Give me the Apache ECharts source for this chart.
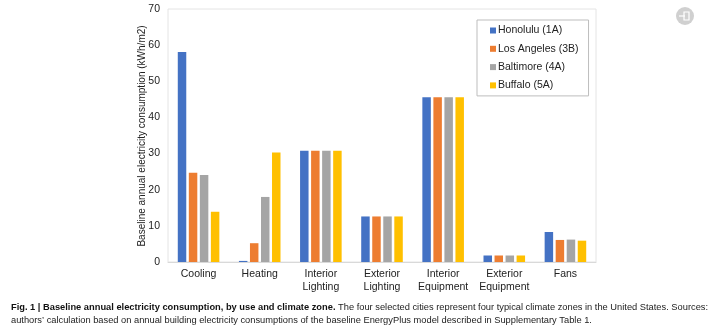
<!DOCTYPE html>
<html><head><meta charset="utf-8">
<script src="https://cdn.jsdelivr.net/npm/echarts@6/dist/echarts.min.js"></script>
<style>html,body{margin:0;padding:0;background:#fff}#c{width:714px;height:331px}</style>
</head><body><div id="c"></div>
<script>
const categories = ['Cooling','Heating','Interior\nLighting','Exterior\nLighting','Interior\nEquipment','Exterior\nEquipment','Fans'];
const honolulu = [58.1, 0.3, 30.8, 12.6, 45.6, 1.8, 8.3];
const losAngeles = [24.7, 5.2, 30.8, 12.6, 45.6, 1.8, 6.1];
const baltimore = [24.1, 18.0, 30.8, 12.6, 45.6, 1.8, 6.2];
const buffalo = [13.9, 30.3, 30.8, 12.6, 45.6, 1.8, 5.9];
const seriesNames = ['Honolulu (1A)','Los Angeles (3B)','Baltimore (4A)','Buffalo (5A)'];
const colors = ['#4472C4','#ED7D31','#A5A5A5','#FFC000'];
const values = [honolulu, losAngeles, baltimore, buffalo];
const yTitle = 'Baseline annual electricity consumption (kWh/m2)';

const chart = echarts.init(document.getElementById('c'), null, {renderer:'canvas'});
const font = 'Liberation Sans, Arial, sans-serif';
const capFont = 'Liberation Sans Narrow, Arial Narrow, sans-serif';
chart.setOption({
  animation:false,
  textStyle:{fontFamily:font},
  grid:{left:168, top:9, width:428, height:253, show:true, borderColor:'#e4e4e4', borderWidth:1, containLabel:false},
  legend:{
    orient:'vertical', left:477, top:20, width:112, height:73,
    padding:[5,10,5,13], itemGap:7.3, itemWidth:6, itemHeight:6, icon:'rect',
    borderColor:'#bdbdbd', borderWidth:1,
    textStyle:{fontSize:10.5, color:'#222', fontFamily:font, padding:[0,0,0,-3]},
    data:seriesNames
  },
  xAxis:{
    type:'category', data:categories,
    axisLine:{lineStyle:{color:'#d9d9d9'}}, axisTick:{show:false},
    axisLabel:{fontSize:10.5, color:'#222', margin:6, lineHeight:13, interval:0}
  },
  yAxis:{
    type:'value', min:0, max:70, interval:10,
    splitLine:{show:false}, axisLine:{show:false}, axisTick:{show:false},
    axisLabel:{fontSize:10.5, color:'#222', margin:8}
  },
  series: values.map((v,i)=>({
    name:seriesNames[i], type:'bar', data:v, barGap:'30%', barCategoryGap:'32%',
    itemStyle:{color:colors[i]}
  })),
  graphic:[
    {type:'text', x:142, y:136, rotation:Math.PI/2, style:{
      text:yTitle, fontSize:10, fontFamily:font, fill:'#222', align:'center', verticalAlign:'middle'}},
    {type:'text', left:11, top:301, style:{
      rich:{b:{fontWeight:'bold', fontSize:9.3, fontFamily:capFont, fill:'#111'},
            n:{fontSize:9.3, fontFamily:capFont, fill:'#222'}},
      text:'{b|Fig. 1 | Baseline annual electricity consumption, by use and climate zone.}{n| The four selected cities represent four typical climate zones in the United States. Sources:}\n{n|authors\u2019 calculation based on annual building electricity consumptions of the baseline EnergyPlus model described in Supplementary Table 1.}',
      lineHeight:13
    }},
    {type:'circle', shape:{cx:685, cy:16, r:9}, style:{fill:'#d0d0d0'}},
    {type:'rect', shape:{x:684, y:12, width:5, height:8}, style:{fill:'none', stroke:'#fff', lineWidth:1.2}},
    {type:'line', shape:{x1:679, y1:16, x2:685, y2:16}, style:{stroke:'#fff', lineWidth:1.2}}
  ]
});
</script></body></html>
